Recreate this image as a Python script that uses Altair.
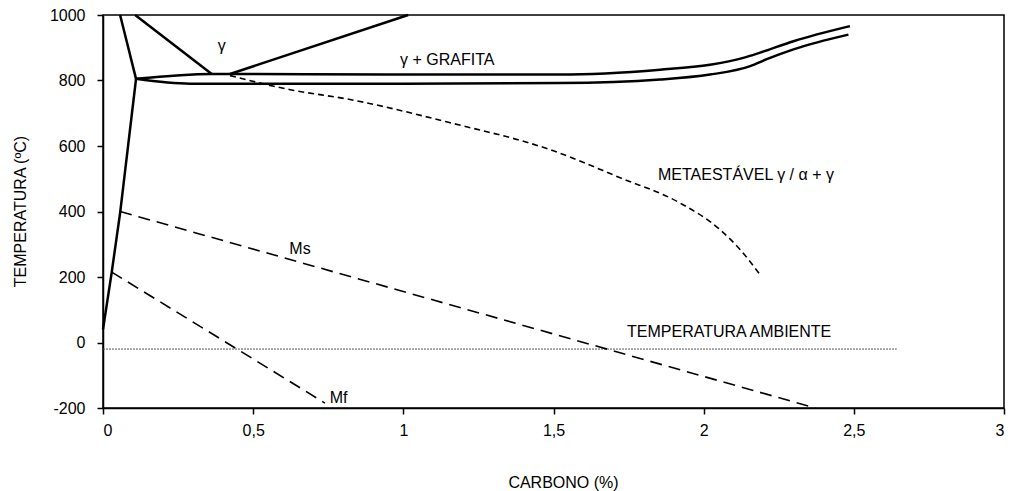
import altair as alt
import pandas as pd

FONT = "Liberation Sans"

# Phase boundaries: carbon content (%) and temperature (°C)
alpha_x = [0.0, 0.029, 0.057, 0.110]
alpha_y = [40, 214, 396, 805]

a3_x = [0.057, 0.110]
a3_y = [1000, 805]

gamma_left_x = [0.107, 0.362]
gamma_left_y = [1000, 820]

gamma_right_x = [0.423, 1.016]
gamma_right_y = [820, 1000]

upper_x = [0.110, 0.362, 1.0, 1.522, 1.855, 2.021, 2.132, 2.188, 2.299, 2.487]
upper_y = [805, 820, 818, 818, 833, 848, 869, 885, 920, 966]

lower_x = [0.110, 0.290, 1.0, 1.522, 1.855, 2.021, 2.155, 2.210, 2.299, 2.482]
lower_y = [805, 790, 790, 792, 803, 818, 844, 865, 895, 940]

# Metastable gamma / alpha + gamma boundary
meta_x = [0.423, 0.623, 0.822, 1.156, 1.488, 1.722, 1.921, 2.054, 2.121, 2.188]
meta_y = [815, 772, 742, 671, 589, 503, 426, 345, 284, 207]

# Martensite start / finish
ms_x = [0.057, 2.372]
ms_y = [400, -200]
mf_x = [0.029, 0.739]
mf_y = [215, -185]

# Room temperature
amb_x = [0.0, 2.643]
amb_y = [-20, -20]

# Region labels
label_text = ["γ", "γ + GRAFITA", "METAESTÁVEL γ / α + γ", "Ms", "Mf", "TEMPERATURA AMBIENTE"]
label_x = [0.395, 0.989, 1.848, 0.656, 0.755, 1.745]
label_y = [905, 862, 512, 287, -169, 32]
label_align = ["center", "left", "left", "center", "left", "left"]

x_ticks = [0, 0.5, 1, 1.5, 2, 2.5, 3]
y_ticks = [-200, 0, 200, 400, 600, 800, 1000]


def frame(curves):
    rows = []
    for name, xs, ys in curves:
        for i, (xv, yv) in enumerate(zip(xs, ys)):
            rows.append({"curve": name, "x": xv, "y": yv, "seq": i})
    return pd.DataFrame(rows)


straight = frame([
    ("alpha", alpha_x, alpha_y),
    ("a3", a3_x, a3_y),
    ("gamma_left", gamma_left_x, gamma_left_y),
    ("gamma_right", gamma_right_x, gamma_right_y),
])
smooth = frame([
    ("upper", upper_x, upper_y),
    ("lower", lower_x, lower_y),
])
meta = frame([("meta", meta_x, meta_y)])
martensite = frame([("ms", ms_x, ms_y), ("mf", mf_x, mf_y)])
ambient = frame([("amb", amb_x, amb_y)])
labels = pd.DataFrame({"text": label_text, "x": label_x, "y": label_y, "align": label_align})

x_enc = alt.X(
    "x:Q",
    scale=alt.Scale(domain=[0, 3], nice=False, zero=False),
    axis=alt.Axis(
        values=x_ticks,
        labelExpr="replace(toString(datum.value), '.', ',')",
        title="CARBONO (%)",
        titleX=460,
        titleY=74,
        titleBaseline="middle",
        titleAlign="center",
        labelPadding=8,
    ),
)
y_enc = alt.Y(
    "y:Q",
    scale=alt.Scale(domain=[-200, 1000], nice=False, zero=False),
    axis=alt.Axis(
        values=y_ticks,
        labelExpr="toString(datum.value)",
        title="TEMPERATURA (ºC)",
        titleX=-83,
        titleY=196,
        titleAngle=270,
        titleBaseline="middle",
        titleAlign="center",
        labelPadding=12,
    ),
)

base_enc = dict(x=x_enc, y=y_enc, detail="curve:N", order="seq:Q")

solid_lines = alt.Chart(straight).mark_line(color="black", strokeWidth=2.5).encode(**base_enc)
solid_curves = alt.Chart(smooth).mark_line(
    color="black", strokeWidth=2.5, interpolate="monotone"
).encode(**base_enc)
meta_line = alt.Chart(meta).mark_line(
    color="black", strokeWidth=1.6, strokeDash=[6, 4], interpolate="monotone"
).encode(**base_enc)
mart_lines = alt.Chart(martensite).mark_line(
    color="black", strokeWidth=1.6, strokeDash=[12, 7]
).encode(**base_enc)
amb_line = alt.Chart(ambient).mark_line(
    color="#555555", strokeWidth=1, strokeDash=[2, 1]
).encode(**base_enc)


def text_layer(align):
    return alt.Chart(labels).transform_filter(
        alt.datum.align == align
    ).mark_text(
        font=FONT, fontSize=16, color="black", baseline="middle", align=align
    ).encode(x="x:Q", y="y:Q", text="text:N")


chart = (
    alt.layer(
        amb_line, mart_lines, meta_line, solid_lines, solid_curves,
        text_layer("center"), text_layer("left"),
    )
    .properties(
        width=901,
        height=393,
        autosize=alt.AutoSizeParams(type="none"),
        padding={"left": 103, "top": 15, "right": 7, "bottom": 83},
        background="white",
    )
    .configure_view(stroke="black", strokeWidth=1.5)
    .configure_axis(
        grid=False,
        domainColor="black",
        domainWidth=1.5,
        tickColor="black",
        tickWidth=1.5,
        tickSize=6,
        labelFont=FONT,
        labelFontSize=16,
        labelColor="black",
        titleFont=FONT,
        titleFontSize=16,
        titleFontWeight="normal",
        titleColor="black",
    )
)

chart.save("out.html", embed_options={"renderer": "svg", "actions": False})
